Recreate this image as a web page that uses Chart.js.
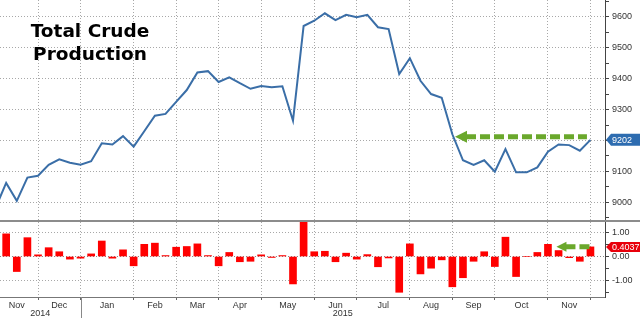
<!DOCTYPE html>
<html>
<head>
<meta charset="utf-8">
<script src="https://cdn.jsdelivr.net/npm/chart.js@4.4.1/dist/chart.umd.min.js"></script>
<style>
  html, body { margin: 0; padding: 0; background: #fff; }
  #wrap { position: relative; width: 640px; height: 318px; overflow: hidden; }
  #top { position: absolute; left: 0; top: 0; width: 640px; height: 220px; }
  #sep { position: absolute; left: 0; top: 220px; width: 640px; height: 2px; background: #8c8c8c; }
  #bottom { position: absolute; left: 0; top: 222px; width: 640px; height: 96px; }
  #title {
    position: absolute; left: 0; top: 18.6px; width: 180px; text-align: center;
    font: bold 18.5px/23px "DejaVu Sans", sans-serif; color: #000;
  }
</style>
</head>
<body>
<div id="wrap">
  <div id="top"><canvas id="topChart"></canvas></div>
  <div id="sep"></div>
  <div id="bottom"><canvas id="bottomChart"></canvas></div>
  <div id="title">Total Crude<br>Production</div>
</div>
<script>
// weekly US crude production (kb/d), week 0 = 7 Nov 2014
const production = [
  8982, 9063, 9005, 9080, 9086, 9121, 9139, 9128, 9122, 9133,
  9191, 9187, 9214, 9180, 9230, 9280, 9286, 9325, 9363, 9420,
  9424, 9389, 9404, 9385, 9367, 9376, 9372, 9375, 9264, 9570,
  9587, 9611, 9589, 9606, 9598, 9606, 9566, 9560, 9415, 9466,
  9393, 9350, 9338, 9220, 9136, 9121, 9136, 9099, 9172, 9097,
  9097, 9113, 9164, 9187, 9185, 9167, 9202
];

// week over week % change
const weeklyChange = [
  null, 0.95, -0.63, 0.79, 0.07, 0.37, 0.2, -0.11, -0.07, 0.11,
  0.65, -0.07, 0.28, -0.39, 0.51, 0.56, 0.04, 0.39, 0.42, 0.53,
  0.04, -0.39, 0.17, -0.22, -0.2, 0.07, -0.04, 0.04, -1.15, 3.3,
  0.2, 0.22, -0.22, 0.14, -0.11, 0.08, -0.43, -0.06, -1.5, 0.53,
  -0.73, -0.49, -0.14, -1.27, -0.89, -0.2, 0.2, -0.42, 0.81, -0.84,
  0, 0.17, 0.51, 0.25, -0.05, -0.2, 0.4037
];

// first week of each month (index into the weekly series)
const monthStartWeek = [0, 4, 8, 13, 17, 21, 25, 30, 34, 39, 43, 47, 52, 56];
const monthLabels = ["Nov", "Dec", "Jan", "Feb", "Mar", "Apr", "May", "Jun", "Jul", "Aug", "Sep", "Oct", "Nov"];
const yearLabels = ["2014", "2015"];
const yearBreakWeek = 8;

const topTicks = [9000, 9100, 9200, 9300, 9400, 9500, 9600];
const changeTicks = [-1, 0, 1];

const xMin = 0.42, xMax = 57.37;
const GRID = "#a8a8a8";
const GREEN = "#6aa82c";
const NONE = "rgba(0,0,0,0)";

Chart.defaults.font.family = "'Liberation Sans', Arial, sans-serif";
Chart.defaults.font.size = 9;
Chart.defaults.color = "#333";

// mid points of months for the labels
const monthMid = monthLabels.map((m, i) => (monthStartWeek[i] + monthStartWeek[i + 1]) / 2);
const isStart = (v) => monthStartWeek.includes(v);

function drawArrow(ctx, xTip, xEnd, y, headLen, headHalf) {
  ctx.save();
  ctx.fillStyle = GREEN;
  ctx.strokeStyle = GREEN;
  ctx.beginPath();
  ctx.moveTo(xTip, y);
  ctx.lineTo(xTip + headLen, y - headHalf);
  ctx.lineTo(xTip + headLen, y + headHalf);
  ctx.closePath();
  ctx.fill();
  ctx.lineWidth = 5;
  ctx.setLineDash([10, 4]);
  ctx.beginPath();
  ctx.moveTo(xTip + headLen - 1, y);
  ctx.lineTo(xEnd, y);
  ctx.stroke();
  ctx.restore();
}

function drawBadge(ctx, x0, y, text, color, half) {
  ctx.save();
  ctx.fillStyle = color;
  ctx.beginPath();
  ctx.moveTo(x0 + 1, y);
  ctx.lineTo(x0 + 6, y - half);
  ctx.lineTo(640, y - half);
  ctx.lineTo(640, y + half);
  ctx.lineTo(x0 + 6, y + half);
  ctx.closePath();
  ctx.fill();
  ctx.fillStyle = "#fff";
  ctx.font = "9px 'Liberation Sans', Arial, sans-serif";
  ctx.textBaseline = "middle";
  ctx.fillText(text, x0 + 7, y + 0.5);
  ctx.restore();
}

const topExtras = {
  id: "topExtras",
  afterDraw(chart) {
    const {ctx, chartArea, scales} = chart;
    const x = scales.x, y = scales.y;
    drawArrow(ctx, x.getPixelForValue(43.25), x.getPixelForValue(55.67), y.getPixelForValue(9212), 12, 6);
    const last = production[production.length - 1];
    drawBadge(ctx, chartArea.right, y.getPixelForValue(last), String(last), "#2d6cb0", 6);
  }
};

const bottomExtras = {
  id: "bottomExtras",
  afterDraw(chart) {
    const {ctx, chartArea, scales} = chart;
    const x = scales.x, y = scales.y;
    drawArrow(ctx, x.getPixelForValue(52.8), x.getPixelForValue(56.0), y.getPixelForValue(0.41), 10, 5);
    const last = weeklyChange[weeklyChange.length - 1];
    drawBadge(ctx, chartArea.right, y.getPixelForValue(last), last.toFixed(4), "#e8000b", 5);

    // year row
    const xb = x.getPixelForValue(yearBreakWeek);
    ctx.save();
    ctx.strokeStyle = "#888";
    ctx.lineWidth = 1;
    ctx.beginPath();
    ctx.moveTo(Math.round(xb) + 0.5, chartArea.bottom);
    ctx.lineTo(Math.round(xb) + 0.5, chart.height);
    ctx.stroke();
    ctx.fillStyle = "#333";
    ctx.font = "9px 'Liberation Sans', Arial, sans-serif";
    ctx.textAlign = "center";
    ctx.textBaseline = "middle";
    ctx.fillText(yearLabels[0], (chartArea.left + xb) / 2, 92);
    ctx.fillText(yearLabels[1], (xb + chartArea.right) / 2, 92);
    ctx.restore();
  }
};

function fixWidth(s) {
  s.width = 35;
  s.paddingTop = 0;
  s.paddingBottom = 0;
}

new Chart(document.getElementById("topChart"), {
  type: "line",
  data: {
    datasets: [{
      data: production.map((v, i) => ({x: i, y: v})),
      borderColor: "#3a6ea7",
      borderWidth: 2,
      pointRadius: 0,
      tension: 0
    }]
  },
  options: {
    responsive: true,
    maintainAspectRatio: false,
    animation: false,
    layout: {padding: 0},
    plugins: {legend: {display: false}, tooltip: {enabled: false}},
    scales: {
      x: {
        type: "linear",
        min: xMin,
        max: xMax,
        afterBuildTicks: (s) => { s.ticks = monthStartWeek.map((v) => ({value: v})); },
        ticks: {display: false},
        grid: {color: GRID, drawTicks: false},
        border: {display: false, dash: [1, 2]},
        afterFit: (s) => { s.height = 0; s.paddingLeft = 0; s.paddingRight = 0; }
      },
      y: {
        position: "right",
        min: 8943,
        max: 9654,
        afterBuildTicks: (s) => {
          const t = [];
          topTicks.forEach((v) => { t.push({value: v - 50}); t.push({value: v}); });
          t.push({value: 9650});
          s.ticks = t;
        },
        ticks: {
          padding: 3,
          color: "#333",
          callback: (v) => (topTicks.includes(v) ? String(v) : "")
        },
        grid: {
          color: (c) => (c.tick && topTicks.includes(c.tick.value) ? GRID : NONE),
          tickColor: "#444",
          tickLength: 4
        },
        border: {display: true, color: "#444", dash: [1, 2]},
        afterFit: fixWidth
      }
    }
  },
  plugins: [topExtras]
});

new Chart(document.getElementById("bottomChart"), {
  type: "bar",
  data: {
    datasets: [{
      data: weeklyChange.map((v, i) => ({x: i, y: v})),
      backgroundColor: "#ff0000",
      barThickness: 7,
      clip: 0
    }]
  },
  options: {
    responsive: true,
    maintainAspectRatio: false,
    animation: false,
    layout: {padding: 0},
    plugins: {legend: {display: false}, tooltip: {enabled: false}},
    scales: {
      x: {
        type: "linear",
        min: xMin,
        max: xMax,
        offset: false,
        afterBuildTicks: (s) => {
          const t = monthStartWeek.map((v) => ({value: v})).concat(monthMid.map((v) => ({value: v})));
          t.sort((a, b) => a.value - b.value);
          s.ticks = t;
        },
        ticks: {
          autoSkip: false,
          maxRotation: 0,
          padding: 0,
          color: "#333",
          callback: (v) => {
            const k = monthMid.indexOf(v);
            return k >= 0 ? monthLabels[k] : "";
          }
        },
        grid: {
          offset: false,
          color: (c) => (c.tick && isStart(c.tick.value) ? GRID : NONE),
          tickColor: (c) => (c.tick && isStart(c.tick.value) ? "#666" : NONE),
          tickLength: 3
        },
        border: {display: true, color: "#777", dash: [1, 2]},
        afterFit: (s) => { s.height = 21; s.paddingLeft = 0; s.paddingRight = 0; }
      },
      y: {
        position: "right",
        min: -1.698,
        max: 1.447,
        afterBuildTicks: (s) => {
          s.ticks = [-1.5, -1, -0.5, 0, 0.5, 1].map((v) => ({value: v}));
        },
        ticks: {
          padding: 3,
          color: "#333",
          callback: (v) => (changeTicks.includes(v) ? v.toFixed(2) : "")
        },
        grid: {
          color: (c) => {
            if (!c.tick || !changeTicks.includes(c.tick.value)) return NONE;
            return c.tick.value === 0 ? "#888" : GRID;
          },
          tickColor: "#444",
          tickLength: 4
        },
        border: {display: true, color: "#444", dash: [1, 2]},
        afterFit: fixWidth
      }
    }
  },
  plugins: [bottomExtras]
});
</script>
</body>
</html>
